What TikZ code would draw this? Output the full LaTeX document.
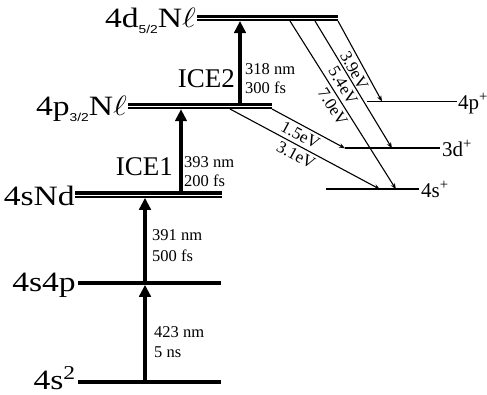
\documentclass[tikz,border=0pt]{standalone}
\usepackage{fontspec}
\setmainfont{Liberation Serif}
\newfontfamily\subsans{Liberation Sans}
\usetikzlibrary{arrows.meta}
\newcommand{\lvsub}[1]{\raisebox{-6pt}{\subsans\fontsize{11.5}{11.5}\selectfont #1}}
\newcommand{\lvell}{\scalebox{1.12}{$\ell$}}
\begin{document}
\begin{tikzpicture}[x=1pt,y=-1pt,
  lvl/.style={line width=3.3pt},
  lvtop/.style={line width=3.1pt},
  lvbot/.style={line width=2pt},
  ionlv/.style={line width=1.8pt},
  pump/.style={line width=4pt,-{Triangle[length=12pt,width=11.5pt]}},
  decay/.style={line width=1.1pt,-{Stealth[length=6pt,width=4.5pt]}},
  biglab/.style={inner sep=0pt,anchor=base east,font=\fontsize{28}{30}\selectfont},
  icelab/.style={inner sep=0pt,anchor=base east,font=\fontsize{27}{30}\selectfont},
  smalllab/.style={inner sep=0pt,anchor=base west,font=\fontsize{16.5}{20}\selectfont},
  ionlab/.style={inner sep=0pt,anchor=base west,font=\fontsize{21}{24}\selectfont},
  evlab/.style={sloped,below,inner sep=3.2pt,font=\fontsize{17}{19}\selectfont},
]
\useasboundingbox (0,0) rectangle (487,394);

% level end points
\coordinate (s2L) at (78,382);   \coordinate (s2R) at (221,382);
\coordinate (s4pL) at (78,283);  \coordinate (s4pR) at (221,283);
\coordinate (NdL) at (75,194.7); \coordinate (NdR) at (222,194.7);
\coordinate (pL) at (128,106.2); \coordinate (pR) at (272,106.2);
\coordinate (dL) at (197,18);    \coordinate (dR) at (338,18);
\coordinate (i4pL) at (367,101.5); \coordinate (i4pR) at (457,101.5);
\coordinate (i3dL) at (345,148.3); \coordinate (i3dR) at (440,148.3);
\coordinate (i4sL) at (326,189.3); \coordinate (i4sR) at (419,189.3);

% single levels
\draw[lvl] (s2L) -- (s2R);
\draw[lvl] (s4pL) -- (s4pR);
% double levels
\foreach \a/\b in {NdL/NdR,pL/pR,dL/dR}{
  \draw[lvtop] ([yshift=1.7pt]\a) -- ([yshift=1.7pt]\b);
  \draw[lvbot] ([yshift=-2pt]\a) -- ([yshift=-2pt]\b);
}
% ion levels
\draw[ionlv] (i4pL) -- (i4pR);
\draw[ionlv] (i3dL) -- (i3dR);
\draw[ionlv] (i4sL) -- (i4sR);

% pump arrows
\coordinate (a1s) at (145,382);   \coordinate (a1e) at (145,284.8);
\coordinate (a2s) at (145,283);   \coordinate (a2e) at (145,197.8);
\coordinate (a3s) at (181,193);   \coordinate (a3e) at (181,109.2);
\coordinate (a4s) at (240,105);   \coordinate (a4e) at (240,21);
\draw[pump] (a1s) -- (a1e);
\draw[pump] (a2s) -- (a2e);
\draw[pump] (a3s) -- (a3e);
\draw[pump] (a4s) -- (a4e);

% decay lines
\coordinate (p1) at (230,109);  \coordinate (e1) at (380,189.3);
\coordinate (p2) at (272,109);  \coordinate (e2) at (345,148.3);
\coordinate (d1) at (290,21);   \coordinate (f1) at (396,189.3);
\coordinate (d2) at (315,21);   \coordinate (f2) at (392,148.3);
\coordinate (d3) at (338,21);   \coordinate (f3) at (382,101.5);
\draw[decay] (p1) -- node[evlab,pos=0.47] (ev31) {3.1eV} (e1);
\draw[decay] (p2) -- node[evlab,pos=0.45] (ev15) {1.5eV} (e2);
\draw[decay] (d1) -- node[evlab,pos=0.48] (ev70) {7.0eV} (f1);
\draw[decay] (d2) -- node[evlab,pos=0.47] (ev54) {5.4eV} (f2);
\draw[decay] (d3) -- node[evlab,pos=0.56] (ev39) {3.9eV} (f3);

% level labels
\node[biglab] (ls2) at (76,389) {\scalebox{1.2}[1]{4s\textsuperscript{2}}};
\node[biglab] (ls4p) at (76,291) {\scalebox{1.2}[1]{4s4p}};
\node[biglab] (lNd) at (75,205) {\scalebox{1.2}[1]{4sNd}};
\node[biglab] (lp) at (127,115) {\scalebox{1.2}[1]{4p\lvsub{3/2}N\lvell}};
\node[biglab] (ld) at (196,27) {\scalebox{1.2}[1]{4d\lvsub{5/2}N\lvell}};

% ICE labels
\node[icelab] (ice1) at (173,175) {ICE1};
\node[icelab] (ice2) at (235,87) {ICE2};

% laser labels
\node[smalllab] (t1a) at (154,337) {423 nm};
\node[smalllab] (t1b) at (154,357) {5 ns};
\node[smalllab] (t2a) at (152,240) {391 nm};
\node[smalllab] (t2b) at (152,261) {500 fs};
\node[smalllab] (t3a) at (184,167) {393 nm};
\node[smalllab] (t3b) at (184,186) {200 fs};
\node[smalllab] (t4a) at (245,74) {318 nm};
\node[smalllab] (t4b) at (245,93) {300 fs};

% ion labels
\node[ionlab] (l4pi) at (458,109) {4p\textsuperscript{+}};
\node[ionlab] (l3di) at (442,156) {3d\textsuperscript{+}};
\node[ionlab] (l4si) at (421,197) {4s\textsuperscript{+}};
\end{tikzpicture}
\end{document}
